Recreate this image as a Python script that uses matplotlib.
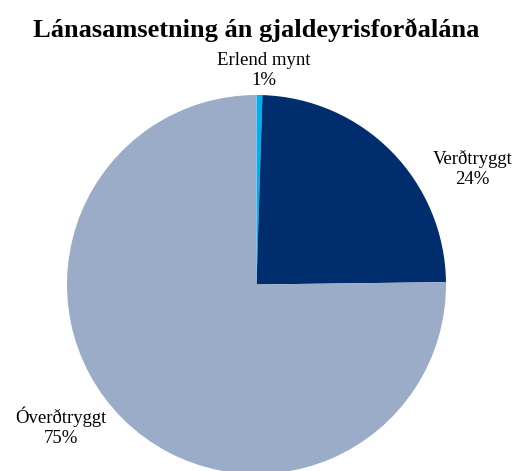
import matplotlib
matplotlib.use('Agg')
import matplotlib.pyplot as plt

# Gögn
flokkar = ['Erlend mynt', 'Verðtryggt', 'Óverðtryggt']
hlutfall = [0.5, 24.3, 75.2]
hlutfall_merki = ['1%', '24%', '75%']
litir = ['#00B0F0', '#002D6E', '#9BACC8']
# staðsetning merkja (í einingum geisla)
merki_stadur = [(0.04, 1.13), (1.14, 0.61), (-1.03, -0.75)]

plt.rcParams['font.family'] = ['Liberation Serif', 'DejaVu Serif']

fig = plt.figure(figsize=(5.26, 4.71), dpi=100)
ax = fig.add_axes([67 / 526, -3 / 471, 379 / 526, 379 / 471])

ax.pie(hlutfall, colors=litir, startangle=90, counterclock=False,
       radius=1, wedgeprops=dict(linewidth=0))
ax.set_xlim(-1, 1)
ax.set_ylim(-1, 1)
ax.set_aspect('equal')
ax.axis('off')

for nafn, pr, (x, y) in zip(flokkar, hlutfall_merki, merki_stadur):
    ax.text(x, y, f'{nafn}\n{pr}', ha='center', va='center',
            fontsize=13.5, linespacing=1.25)

fig.text(256 / 526, 1 - 30 / 471, 'Lánasamsetning án gjaldeyrisforðalána',
         ha='center', va='center', fontsize=19, fontweight='bold')

fig.savefig('out.png', dpi=100)
